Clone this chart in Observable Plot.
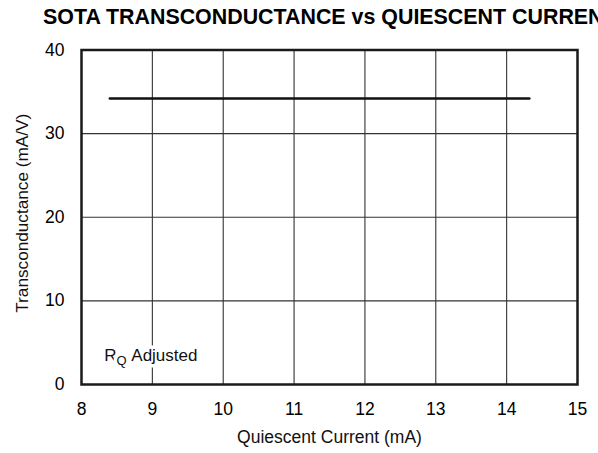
<!DOCTYPE html>
<html>
<head>
<meta charset="utf-8">
<script src="https://cdn.jsdelivr.net/npm/d3@7"></script>
<script src="https://cdn.jsdelivr.net/npm/@observablehq/plot@0.6"></script>
<style>
  html, body { margin: 0; padding: 0; background: #fff; }
  #wrap { position: relative; width: 598px; height: 453px; overflow: hidden; font-family: "Liberation Sans", Arial, sans-serif; }
  #title { position: absolute; left: 43px; top: 5px; font-size: 21.4px; font-weight: bold; white-space: nowrap; color: #000; }
  #chart { position: absolute; left: 0; top: 30px; }
</style>
</head>
<body>
<div id="wrap">
  <div id="title">SOTA TRANSCONDUCTANCE vs QUIESCENT CURRENT</div>
  <div id="chart"></div>
</div>
<script>
const currentMA = [8.4, 14.32];
const transconductance = [34.2, 34.2];
const xTicks = [8, 9, 10, 11, 12, 13, 14, 15];
const yTicks = [0, 10, 20, 30, 40];
const yGrid = [10, 20, 30];
const annotation = [{x: 8.32, y: 3.5, text: "RQ Adjusted"}];
const xLabel = "Quiescent Current (mA)";
const yLabel = "Transconductance (mA/V)";

const series = currentMA.map((x, i) => ({x, y: transconductance[i]}));

const plot = Plot.plot({
  width: 598,
  height: 423,
  marginTop: 19.5,
  marginBottom: 69,
  marginLeft: 81,
  marginRight: 21,
  style: {fontFamily: "Liberation Sans, Arial, sans-serif", fontSize: "17px", color: "#000", background: "#fff"},
  x: {domain: [8, 15], ticks: xTicks, label: null},
  y: {domain: [0, 40], ticks: yTicks, label: null},
  marks: [
    Plot.gridX(xTicks.slice(1, -1), {stroke: "#333", strokeOpacity: 1, strokeWidth: 1.1}),
    Plot.gridY(yGrid, {stroke: "#333", strokeOpacity: 1, strokeWidth: 1.1}),
    Plot.axisX(xTicks, {tickSize: 0, tickPadding: 18, fontSize: 17.5}),
    Plot.axisY(yTicks, {tickSize: 0, tickPadding: 17, fontSize: 17.5}),
    Plot.line(series, {x: "x", y: "y", stroke: "#111", strokeWidth: 2.5}),
    Plot.frame({stroke: "#1a1a1a", strokeWidth: 2.5}),
    Plot.text(annotation, {x: "x", y: "y", text: "text", textAnchor: "start", fontSize: 17, fill: "#111", stroke: "white", strokeWidth: 7, paintOrder: "stroke", className: "annot"}),
    Plot.text([xLabel], {frameAnchor: "bottom", dy: 58, fontSize: 17.5, fill: "#111"}),
    Plot.text([yLabel], {frameAnchor: "left", textAnchor: "middle", rotate: -90, dx: -59, dy: -4, fontSize: 17.2, fill: "#111"})
  ]
});
document.getElementById("chart").appendChild(plot);

// Subscript Q in the annotation
d3.select(plot).selectAll("g.annot text").each(function() {
  const t = d3.select(this);
  t.text(null);
  t.style("white-space", "pre");
  t.append("tspan").text("R");
  t.append("tspan").attr("dy", 4.5).attr("font-size", "13px").text("Q");
  t.append("tspan").attr("dy", -4.5).text("\u00A0Adjusted");
});
</script>
</body>
</html>
